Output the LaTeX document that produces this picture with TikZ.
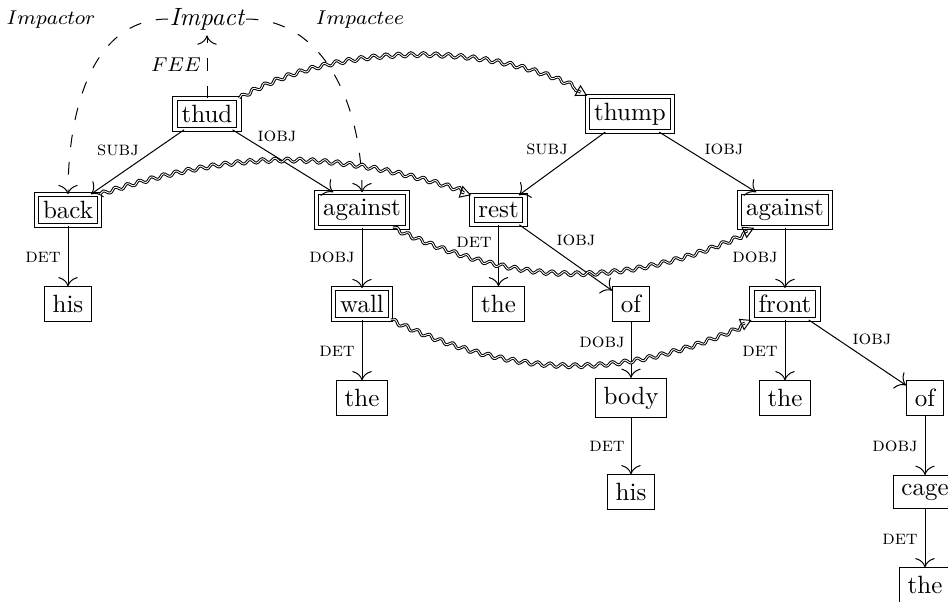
\documentclass[tikz,border=0pt]{standalone}
\usetikzlibrary{arrows.meta,decorations.pathmorphing}
\begin{document}
\begin{tikzpicture}[x=0.4pt,y=-0.4pt,
  word/.style={draw, inner sep=3.33pt},
  headword/.style={draw, double, double distance=1.4pt, inner sep=2.6pt},
  dep/.style={-{To[scale=1.5]}},
  rel/.style={font=\footnotesize, inner sep=1pt},
  frel/.style={dash pattern=on 5pt off 6pt, -{To[scale=1.5]}},
  role/.style={font=\footnotesize, inner sep=1pt},
  wave/.style={decorate, decoration={snake, amplitude=0.8pt, segment length=5pt, post length=3pt},
    double, double distance=0.35pt, -{Triangle[open,length=4.5pt,width=5pt]}}
]
\useasboundingbox (0,0) rectangle (948,601);
\clip (0,0) rectangle (948,601);

% frame
\node[font=\itshape, inner xsep=0.5pt, inner ysep=2pt] (impact) at (207,19) {Impact};
\node[role] (impactor) at (51,20) {$Impactor$};
\node[role] (impactee) at (360,20) {$Impactee$};
\node[role] (fee) at (176,65) {$FEE$};

% words
\node[headword] (thud) at (207,114) {thud};
\node[headword] (thump) at (630,114) {thump};
\node[headword] (back) at (68,210) {back};
\node[headword] (againstA) at (362,210) {against};
\node[headword] (rest) at (498.5,210) {rest};
\node[headword] (againstB) at (785,210) {against};
\node[word] (hisA) at (68,304) {his};
\node[headword] (wall) at (362,304) {wall};
\node[word] (theA) at (498.5,304) {the};
\node[word] (ofA) at (631,304) {of};
\node[headword] (front) at (785,304) {front};
\node[word] (theB) at (362,398) {the};
\node[word] (body) at (631,398) {body};
\node[word] (theC) at (785,398) {the};
\node[word] (ofB) at (925,398) {of};
\node[word] (hisB) at (631,492) {his};
\node[word] (cage) at (925,492) {cage};
\node[word] (theD) at (925,585) {the};

% frame element links
\draw[frel] (thud) -- (impact);
\draw[frel] (impact.west) to[out=180,in=90] (back.north);
\draw[frel] (impact.east) to[out=0,in=90] (againstA.north);

% dependencies
\draw[dep] (thud) -- (back);
\draw[dep] (thud) -- (againstA);
\draw[dep] (back) -- (hisA);
\draw[dep] (againstA) -- (wall);
\draw[dep] (wall) -- (theB);
\draw[dep] (thump) -- (rest);
\draw[dep] (thump) -- (againstB);
\draw[dep] (rest) -- (theA);
\draw[dep] (rest) -- (ofA);
\draw[dep] (ofA) -- (body);
\draw[dep] (body) -- (hisB);
\draw[dep] (againstB) -- (front);
\draw[dep] (front) -- (theC);
\draw[dep] (front) -- (ofB);
\draw[dep] (ofB) -- (cage);
\draw[dep] (cage) -- (theD);

% relation labels
\node[rel] (r1) at (118,150) {\textsc{subj}};
\node[rel] (r2) at (277,136) {\textsc{iobj}};
\node[rel] (r3) at (43,257) {\textsc{det}};
\node[rel] (r4) at (332,257) {\textsc{dobj}};
\node[rel] (r5) at (337,351) {\textsc{det}};
\node[rel] (r6) at (547,149) {\textsc{subj}};
\node[rel] (r7) at (724,149) {\textsc{iobj}};
\node[rel] (r8) at (474,242) {\textsc{det}};
\node[rel] (r9) at (576,240) {\textsc{iobj}};
\node[rel] (r10) at (602,342) {\textsc{dobj}};
\node[rel] (r11) at (607,446) {\textsc{det}};
\node[rel] (r12) at (755,257) {\textsc{dobj}};
\node[rel] (r13) at (760,351) {\textsc{det}};
\node[rel] (r14) at (872,339) {\textsc{iobj}};
\node[rel] (r15) at (895,446) {\textsc{dobj}};
\node[rel] (r16) at (900,539) {\textsc{det}};

% alignment links
\draw[wave] (thud.north east) to[out=30,in=150,looseness=0.8] (thump.north west);
\draw[wave] (back.north east) to[out=18,in=162] (rest.north west);
\draw[wave] (againstA.-30) to[out=-25,in=-155] (againstB.-150);
\draw[wave] (wall.south east) to[out=-25,in=-155] (front.south west);
\end{tikzpicture}
\end{document}
